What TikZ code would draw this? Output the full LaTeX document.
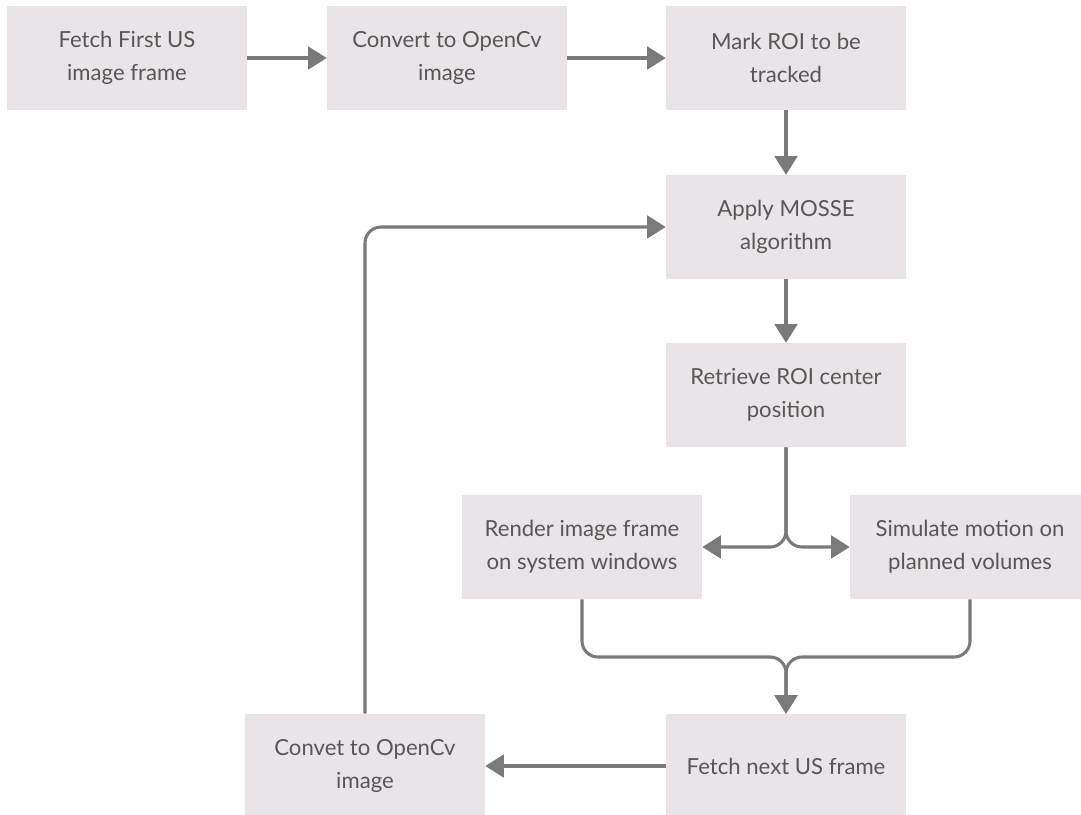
\documentclass[tikz,border=0pt]{standalone}
\usepackage{fontspec}
\setmainfont{Lato}
\usetikzlibrary{arrows.meta}
\definecolor{boxfill}{HTML}{E8E4E7}
\definecolor{boxtext}{HTML}{575757}
\definecolor{flowline}{HTML}{7A7A7A}
\begin{document}
\begin{tikzpicture}[x=0.75pt,y=-0.75pt,
	stage/.style={fill=boxfill,text=boxtext,minimum width=180pt,minimum height=78pt,align=center,inner sep=2pt,font=\fontsize{16.6}{25}\selectfont},
	flow/.style={draw=flowline,line width=2.3pt,-{Triangle[length=14pt,width=17pt]},rounded corners=12pt}]
\useasboundingbox (0,0) rectangle (1081,814);
\node[stage](fetchfirst) at (127,58){Fetch First US\\image frame};
\node[stage](convert) at (447,58){Convert to OpenCv\\image};
\node[stage](markroi) at (786,58){Mark ROI to be\\tracked};
\node[stage](mosse) at (786,227){Apply MOSSE\\algorithm};
\node[stage](retrieve) at (786,395){Retrieve ROI center\\position};
\node[stage](render) at (582,547){Render image frame\\on system windows};
\node[stage](simulate) at (970,547){Simulate motion on\\planned volumes};
\node[stage](fetchnext) at (786,766){Fetch next US frame};
\node[stage](convet) at (365,766){Convet to OpenCv\\image};
\coordinate (merge) at (786,657);
\draw[flow] (fetchfirst) -- (convert);
\draw[flow] (convert) -- (markroi);
\draw[flow] (markroi) -- (mosse);
\draw[flow] (mosse) -- (retrieve);
\draw[flow] (retrieve.south) |- (render.east);
\draw[flow] (retrieve.south) |- (simulate.west);
\draw[flow] (render.south) |- (merge) -- (fetchnext.north);
\draw[flow] (simulate.south) |- (merge) -- (fetchnext.north);
\draw[flow] (fetchnext) -- (convet);
%\draw[flow] (convet.north) |- (mosse.west);
\draw[flow] (convet.north) |- (mosse.west);
\end{tikzpicture}
\end{document}
